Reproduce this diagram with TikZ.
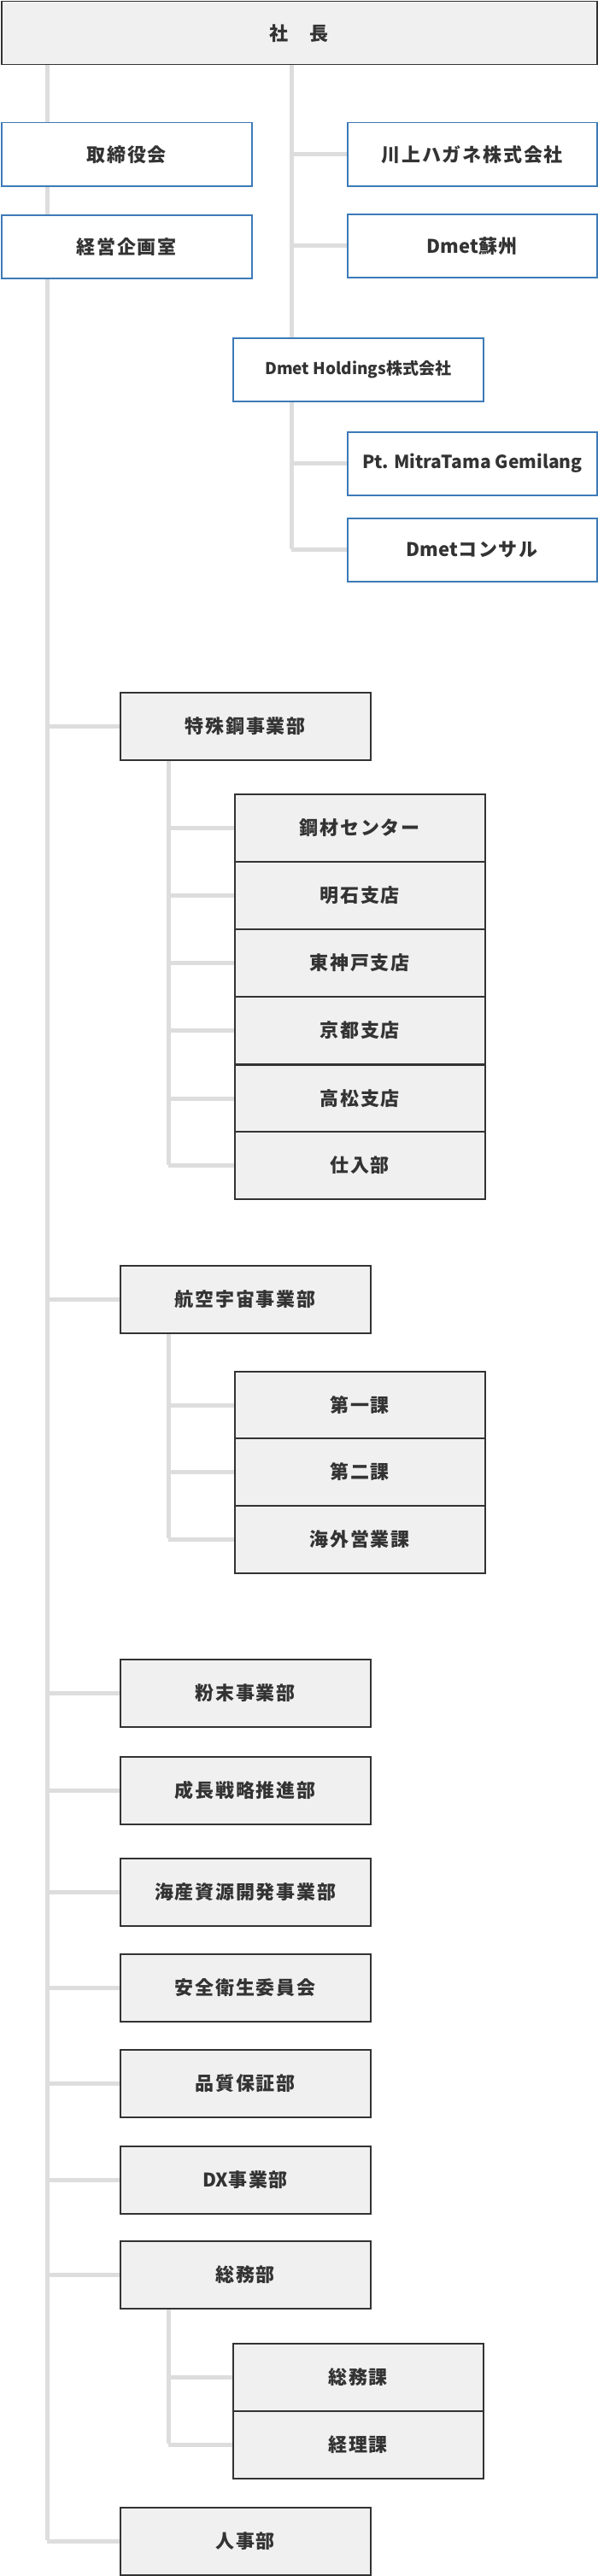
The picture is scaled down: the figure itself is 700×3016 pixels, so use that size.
\documentclass[tikz,border=0pt]{standalone}
\usepackage{fontspec}
\setmainfont{Noto Sans CJK JP}[LetterSpace=8]
\newfontfamily\latinjp{Noto Sans CJK JP}
\definecolor{boxfill}{HTML}{F0F0F0}
\definecolor{boxline}{HTML}{333333}
\definecolor{blueline}{HTML}{3D7AB8}
\definecolor{conn}{HTML}{DDDDDD}
\begin{document}
\begin{tikzpicture}[x=1pt,y=-1pt,
  gbox/.style={draw=boxline,line width=1.5pt,fill=boxfill,text=boxline,font=\fontsize{22}{26}\selectfont\bfseries,minimum width=293pt,minimum height=79pt,inner sep=0pt,anchor=north west},
  bbox/.style={draw=blueline,line width=1.5pt,fill=white,text=boxline,font=\fontsize{22}{26}\selectfont\bfseries,minimum width=293pt,minimum height=74pt,inner sep=0pt,anchor=north west},
  line/.style={draw=conn,line width=5pt}]
\useasboundingbox (0,0) rectangle (700,3016);
\coordinate (t1) at (55,75); \coordinate (t1e) at (55,2974);
\coordinate (t2) at (341,75); \coordinate (t2e) at (341,395);
\coordinate (t3) at (341,469); \coordinate (t3e) at (341,643);
\draw[line] (t1) -- (t1e);
\draw[line] (t2) -- (t2e);
\draw[line] (t3) -- (t3e);
\node[gbox,minimum width=697pt,minimum height=74pt] (ceo) at (1,1) {社　長};
\node[bbox] (tori) at (1,143) {取締役会};
\node[bbox] (keiei) at (1,251) {経営企画室};
\node[bbox,minimum width=292pt] (kawa) at (406,143) {川上ハガネ株式会社};
\node[bbox,minimum width=292pt] (soshu) at (406,250) {{\latinjp Dmet}蘇州};
\node[bbox,font=\fontsize{19}{22}\selectfont\bfseries\latinjp] (hold) at (272,395) {Dmet Holdings株式会社};
\node[bbox,minimum width=292pt,font=\fontsize{21}{24}\selectfont\bfseries\latinjp] (pt) at (406,505) {Pt. MitraTama Gemilang};
\node[bbox,minimum width=292pt] (cons) at (406,606) {{\latinjp Dmet}コンサル};
\draw[line] (kawa.west) -- (t2 |- kawa.west);
\draw[line] (soshu.west) -- (t2 |- soshu.west);
\draw[line] (pt.west) -- (t3 |- pt.west);
\draw[line] (cons.west) -- (t3 |- cons.west);
\foreach \n/\y/\t in {tok/810/特殊鋼事業部, kou/1481/航空宇宙事業部, fun/1942/粉末事業部, sei/2056/成長戦略推進部, kai/2175/海産資源開発事業部, an/2287/安全衛生委員会, hin/2399/品質保証部, dx/2512/{{\latinjp DX}事業部}, so/2623/総務部, jin/2935/人事部}{
  \node[gbox] (\n) at (140,\y) {\t};
  \draw[line] (\n.west) -- (t1 |- \n.west);
}
\coordinate (s1e) at (197,1364);
\coordinate (s2e) at (197,1801);
\coordinate (s3e) at (197,2861);
\draw[line] (tok.south -| s1e) -- (s1e);
\draw[line] (kou.south -| s2e) -- (s2e);
\draw[line] (so.south -| s3e) -- (s3e);
\foreach \n/\y/\t in {a1/929/鋼材センター, a2/1008/明石支店, a3/1087/東神戸支店, a4/1166/京都支店, a5/1246/高松支店, a6/1324/仕入部}{
  \node[gbox] (\n) at (274,\y) {\t};
  \draw[line] (\n.west) -- (s1e |- \n.west);
}
\foreach \n/\y/\t in {b1/1605/第一課, b2/1683/第二課, b3/1762/海外営業課}{
  \node[gbox] (\n) at (274,\y) {\t};
  \draw[line] (\n.west) -- (s2e |- \n.west);
}
\foreach \n/\y/\t in {c1/2743/総務課, c2/2822/経理課}{
  \node[gbox] (\n) at (272,\y) {\t};
  \draw[line] (\n.west) -- (s3e |- \n.west);
}
\end{tikzpicture}
\end{document}
